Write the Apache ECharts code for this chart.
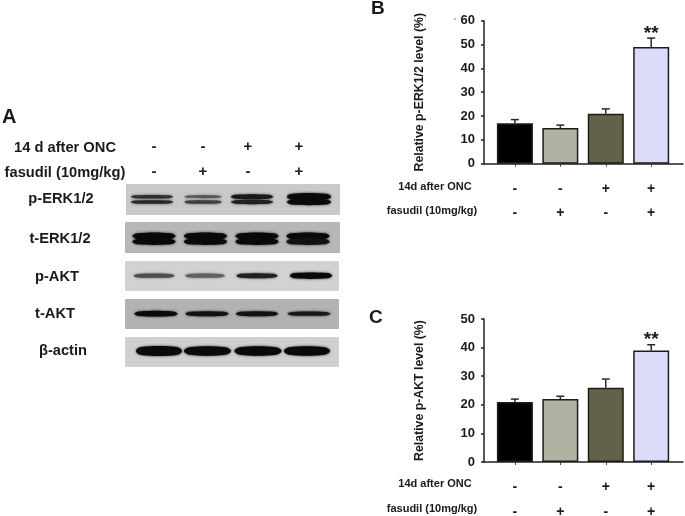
<!DOCTYPE html>
<html>
<head>
<meta charset="utf-8">
<style>
  html, body { margin: 0; padding: 0; background: #fff; }
  #chart { width: 685px; height: 516px; }
</style>
<script src="https://cdn.jsdelivr.net/npm/echarts@6/dist/echarts.min.js"></script>
</head>
<body>
<div id="chart"></div>
<script>
// treatment groups
const groupPositions = [1, 2, 3, 4]
const oncMarks = ['-', '-', '+', '+']
const fasudilMarks = ['-', '+', '-', '+']

// panel B
const erkValues = [17, 15, 21, 49]
const erkErrorTops = [18.5, 16.2, 23, 52.7]
const erkStars = ['', '', '', '**']

// panel C
const aktValues = [21, 22, 26, 39]
const aktErrorTops = [22, 23, 29, 41]
const aktStars = ['', '', '', '**']

// blot band darkness, 0 to 1, one per lane
const pErkUpper = [0.75, 0.5, 0.9, 1]
const pErkLower = [0.8, 0.65, 0.85, 1]
const tErkUpper = [1, 1, 1, 1]
const tErkLower = [1, 1, 1, 0.95]
const pAktBand = [0.55, 0.42, 0.85, 1]
const tAktBand = [1, 0.95, 0.95, 0.9]
const actinBand = [1, 1, 1, 1]

const barColors = ['#000000', '#b2b2a4', '#62624a', '#dcdcfa']
const font = '"Liberation Sans", Arial, sans-serif'
const ink = '#1a1a1a'

const chart = echarts.init(document.getElementById('chart'))

function barPanel(index, opts) {
  const axisStyle = { lineStyle: { color: '#222', width: 1.5 } }
  return {
    grid: { left: 484, width: 199, top: opts.top, height: opts.height, outerBoundsMode: 'none' },
    xAxis: {
      type: 'value', gridIndex: index, min: 0.32, max: 4.7, splitLine: { show: false },
      axisLine: axisStyle,
      axisTick: { customValues: groupPositions, length: 3, lineStyle: { color: '#444' } },
      axisLabel: {
        customValues: groupPositions,
        margin: 13,
        lineHeight: 24.5,
        fontFamily: font, fontWeight: 'bold', fontSize: 14, color: ink,
        formatter: (v) => oncMarks[v - 1] + '\n' + fasudilMarks[v - 1]
      }
    },
    yAxis: {
      type: 'value', gridIndex: index, min: 0, max: opts.max, interval: 10,
      splitLine: { show: false },
      axisLine: { show: true, ...axisStyle },
      axisTick: { show: true, length: 3, lineStyle: { color: '#222', width: 1.5 } },
      axisLabel: { margin: 9, fontFamily: font, fontSize: 13, fontWeight: 'bold', color: ink },
      name: opts.title,
      nameLocation: 'middle',
      nameGap: 58,
      nameTextStyle: { fontFamily: font, fontSize: 12.3, fontWeight: 'bold', color: ink }
    },
    series: [{
      type: 'bar', xAxisIndex: index, yAxisIndex: index, barWidth: 36,
      data: groupPositions.map((x, i) => ({
        value: [x, opts.values[i]],
        itemStyle: { color: barColors[i], borderColor: '#1c1c1c', borderWidth: 1.5 }
      })),
      silent: true
    }, {
      type: 'custom', xAxisIndex: index, yAxisIndex: index, silent: true, z: 1,
      data: groupPositions.map((x, i) => [x, opts.values[i], opts.tops[i], opts.stars[i]]),
      renderItem(params, api) {
        const base = api.coord([api.value(0), api.value(1)])
        const top = api.coord([api.value(0), api.value(2)])
        const stroke = { stroke: '#2a2a2a', lineWidth: 1.5 }
        return {
          type: 'group',
          children: [
            { type: 'line', shape: { x1: base[0], y1: base[1], x2: top[0], y2: top[1] }, style: stroke },
            { type: 'line', shape: { x1: top[0] - 4, y1: top[1], x2: top[0] + 4, y2: top[1] }, style: stroke },
            {
              type: 'text', z2: 5,
              style: {
                x: top[0], y: top[1] + 5, text: opts.stars[params.dataIndex],
                textAlign: 'center', textVerticalAlign: 'bottom',
                font: 'bold 19px ' + font, fill: ink
              }
            }
          ]
        }
      }
    }]
  }
}

// one gel strip: rows hold [centre, migration, width, thickness, darkness]
function blotPanel(index, opts) {
  const rows = []
  opts.bands.forEach((band) => {
    band.density.forEach((d, lane) => {
      rows.push([opts.centres[lane], band.y, opts.widths[lane], band.thick[lane], d])
    })
  })
  return {
    grid: {
      left: opts.left, width: opts.width, top: opts.top, height: opts.height,
      show: true, backgroundColor: opts.background, borderWidth: 0, outerBoundsMode: 'none'
    },
    xAxis: { type: 'value', gridIndex: index, min: 0, max: opts.width, show: false },
    yAxis: { type: 'value', gridIndex: index, min: 0, max: opts.height, inverse: true, show: false },
    series: [{
      type: 'custom', xAxisIndex: index, yAxisIndex: index, silent: true, data: rows,
      clip: true,
      renderItem(params, api) {
        const c = api.coord([api.value(0), api.value(1)])
        const w = api.value(2)
        const h = api.value(3) * 1.15
        const d = api.value(4)
        const tone = Math.round(160 - 150 * d)
        return {
          type: 'polygon',
          shape: {
            smooth: 0.4,
            points: [
              [c[0] - w / 2, c[1]],
              [c[0] - w * 0.38, c[1] - h / 2],
              [c[0] + w * 0.38, c[1] - h / 2],
              [c[0] + w / 2, c[1]],
              [c[0] + w * 0.38, c[1] + h / 2],
              [c[0] - w * 0.38, c[1] + h / 2]
            ]
          },
          style: {
            fill: 'rgb(' + tone + ',' + tone + ',' + tone + ')',
            shadowBlur: 2.5,
            shadowColor: 'rgba(' + tone + ',' + tone + ',' + tone + ',0.9)'
          }
        }
      }
    }]
  }
}

const panels = [
  barPanel(0, { top: 20.7, height: 143, max: 60, title: 'Relative p-ERK1/2 level (%)', values: erkValues, tops: erkErrorTops, stars: erkStars }),
  barPanel(1, { top: 319, height: 143, max: 50, title: 'Relative p-AKT level (%)', values: aktValues, tops: aktErrorTops, stars: aktStars }),
  blotPanel(2, {
    left: 126, width: 214, top: 184, height: 31, background: '#c9c9c9',
    centres: [26, 77, 126, 183], widths: [42, 37, 42, 44],
    bands: [
      { y: 12.7, density: pErkUpper, thick: [2.5, 2, 3.5, 5] },
      { y: 18, density: pErkLower, thick: [2.5, 2.5, 3, 4.5] }
    ]
  }),
  blotPanel(3, {
    left: 125, width: 215, top: 222, height: 31, background: '#b7b7b7',
    centres: [29, 80.5, 132, 183], widths: [43, 43, 43, 43],
    bands: [
      { y: 14, density: tErkUpper, thick: [5, 5, 5, 5] },
      { y: 19.7, density: tErkLower, thick: [4.5, 4.5, 4.5, 4.5] }
    ]
  }),
  blotPanel(4, {
    left: 125, width: 214, top: 261, height: 30, background: '#d2d2d2',
    centres: [29, 80, 132, 186], widths: [41, 40, 41, 42],
    bands: [{ y: 14.7, density: pAktBand, thick: [3, 3, 3.5, 4.5] }]
  }),
  blotPanel(5, {
    left: 125, width: 214, top: 299, height: 30, background: '#b2b2b2',
    centres: [31, 82, 132, 184], widths: [43, 43, 42, 43],
    bands: [{ y: 14.7, density: tAktBand, thick: [4, 3.5, 3.5, 3] }]
  }),
  blotPanel(6, {
    left: 125, width: 214, top: 337, height: 30, background: '#d0d0d0',
    centres: [34, 82.5, 133, 182], widths: [46, 47, 47, 46],
    bands: [{ y: 14, density: actinBand, thick: [7, 6.5, 6.5, 6.5] }]
  })
]

function label(text, x, y, size, align) {
  return {
    type: 'text', x: x, y: y, silent: true,
    style: {
      text: text, fill: ink, align: align || 'center', verticalAlign: 'middle',
      font: 'bold ' + size + 'px ' + font
    }
  }
}

const laneMarkX = [154, 203, 248, 299]

chart.setOption({
  animation: false,
  grid: panels.map((p) => p.grid),
  xAxis: panels.map((p) => p.xAxis),
  yAxis: panels.map((p) => p.yAxis),
  series: panels.flatMap((p) => p.series),
  graphic: [
    label('A', 2, 117, 20, 'left'),
    label('B', 371, 9, 19, 'left'),
    label('C', 369, 318, 19, 'left'),
    label('14 d after ONC', 65, 148, 14.7),
    label('fasudil (10mg/kg)', 65, 173, 14.7),
    ...laneMarkX.map((x, i) => label(oncMarks[i], x, 147, 15)),
    ...laneMarkX.map((x, i) => label(fasudilMarks[i], x, 172, 15)),
    label('p-ERK1/2', 61, 199, 14.7),
    label('t-ERK1/2', 60, 239, 14.7),
    label('p-AKT', 57, 277, 14.7),
    label('t-AKT', 55, 314, 14.7),
    label('β-actin', 63, 351, 14.7),
    label('14d after ONC', 435, 187, 11),
    label('fasudil (10mg/kg)', 432, 211, 11),
    label('14d after ONC', 435, 484, 11),
    label('fasudil (10mg/kg)', 432, 509, 11),
    { type: 'circle', silent: true, shape: { cx: 455, cy: 19, r: 0.7 }, style: { fill: '#444' } }
  ]
})
</script>
</body>
</html>
